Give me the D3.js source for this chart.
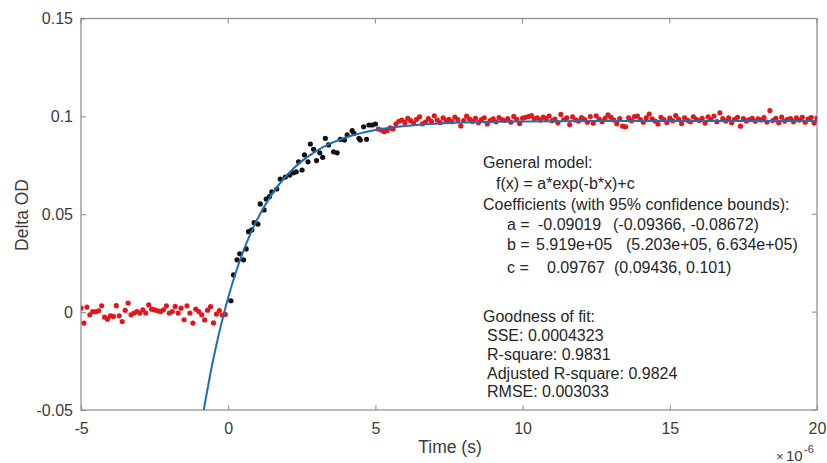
<!DOCTYPE html>
<html lang="en">
<head>
<meta charset="UTF-8">
<title>Delta OD exponential fit</title>
<script src="https://cdn.jsdelivr.net/npm/d3@7"></script>
<style>
  body { margin: 0; background: #fff; }
  svg { display: block; font-family: "Liberation Sans", Arial, Helvetica, sans-serif; }
</style>
</head>
<body>
<svg width="827" height="463" id="mainsvg"></svg>
<script>
// time values are in units of 1e-6 s (axis shows x10^-6)
const xTicks = [-5, 0, 5, 10, 15, 20];
const yTicks = [-0.05, 0, 0.05, 0.1, 0.15];

// baseline before the pulse (red)
const preTime = [-5.0, -4.9, -4.8, -4.7, -4.6, -4.5, -4.4, -4.3, -4.2, -4.1,
                 -4.0, -3.9, -3.8, -3.7, -3.6, -3.5, -3.4, -3.3, -3.2, -3.1,
                 -3.0, -2.9, -2.8, -2.7, -2.6, -2.5, -2.4, -2.3, -2.2, -2.1,
                 -2.0, -1.9, -1.8, -1.7, -1.6, -1.5, -1.4, -1.3, -1.2, -1.1,
                 -1.0, -0.9, -0.8, -0.7, -0.6, -0.5, -0.4, -0.3, -0.2, -0.1];
const preOD = [0.0020, -0.0056, 0.0026, -0.0014, 0.0003, 0.0002, 0.0007, 0.0032, -0.0026, -0.0036,
               -0.0019, -0.0022, 0.0033, -0.0019, -0.0048, 0.0009, 0.0046, -0.0014, -0.0005, 0.0003,
               -0.0005, 0.0012, -0.0005, 0.0037, 0.0015, 0.0012, 0.0007, 0.0003, 0.0012, 0.0032,
               -0.0005, 0.0003, 0.0029, -0.0005, 0.0020, -0.0039, 0.0032, -0.0005, -0.0056, 0.0015,
               0.0003, -0.0014, -0.0040, 0.0010, 0.0028, -0.0055, -0.0010, 0.0008, -0.0015, -0.0012];

// rise used in the fit (black)
const riseTime = [0.09, 0.18, 0.30, 0.39, 0.52, 0.61, 0.69, 0.80, 0.88, 1.01,
                  1.09, 1.22, 1.29, 1.40, 1.48, 1.65, 1.77, 1.94, 2.09, 2.22,
                  2.31, 2.39, 2.51, 2.59, 2.71, 2.79, 2.90, 3.00, 3.11, 3.21,
                  3.30, 3.41, 3.58, 3.70, 3.81, 3.95, 4.04, 4.21, 4.27, 4.44,
                  4.49, 4.60, 4.70, 4.78, 4.89, 5.00];
const riseOD = [0.0058, 0.0190, 0.0267, 0.0298, 0.0267, 0.0323, 0.0411, 0.0420, 0.0457, 0.0450,
                0.0553, 0.0522, 0.0578, 0.0590, 0.0615, 0.0629, 0.0680, 0.0690, 0.0700, 0.0712,
                0.0717, 0.0768, 0.0726, 0.0803, 0.0768, 0.0859, 0.0832, 0.0774, 0.0814, 0.0791,
                0.0888, 0.0854, 0.0819, 0.0814, 0.0883, 0.0879, 0.0905, 0.0927, 0.0913, 0.0888,
                0.0879, 0.0947, 0.0883, 0.0956, 0.0956, 0.0961];

// plateau after the rise (red)
const postTime = [5.1, 5.2, 5.3, 5.4, 5.5, 5.6, 5.7, 5.8, 5.9, 6.0,
                  6.1, 6.2, 6.3, 6.4, 6.5, 6.6, 6.7, 6.8, 6.9, 7.0,
                  7.1, 7.2, 7.3, 7.4, 7.5, 7.6, 7.7, 7.8, 7.9, 8.0,
                  8.1, 8.2, 8.3, 8.4, 8.5, 8.6, 8.7, 8.8, 8.9, 9.0,
                  9.1, 9.2, 9.3, 9.4, 9.5, 9.6, 9.7, 9.8, 9.9, 10.0,
                  10.1, 10.2, 10.3, 10.4, 10.5, 10.6, 10.7, 10.8, 10.9, 11.0,
                  11.1, 11.2, 11.3, 11.4, 11.5, 11.6, 11.7, 11.8, 11.9, 12.0,
                  12.1, 12.2, 12.3, 12.4, 12.5, 12.6, 12.7, 12.8, 12.9, 13.0,
                  13.1, 13.2, 13.3, 13.4, 13.5, 13.6, 13.7, 13.8, 13.9, 14.0,
                  14.1, 14.2, 14.3, 14.4, 14.5, 14.6, 14.7, 14.8, 14.9, 15.0,
                  15.1, 15.2, 15.3, 15.4, 15.5, 15.6, 15.7, 15.8, 15.9, 16.0,
                  16.1, 16.2, 16.3, 16.4, 16.5, 16.6, 16.7, 16.8, 16.9, 17.0,
                  17.1, 17.2, 17.3, 17.4, 17.5, 17.6, 17.7, 17.8, 17.9, 18.0,
                  18.1, 18.2, 18.3, 18.4, 18.5, 18.6, 18.7, 18.8, 18.9, 19.0,
                  19.1, 19.2, 19.3, 19.4, 19.5, 19.6, 19.7, 19.8, 19.9, 20.0];
const postOD = [0.0935, 0.0930, 0.0922, 0.0928, 0.0941, 0.0936, 0.0962, 0.0975, 0.0981, 0.0969,
                0.0990, 0.0978, 0.0966, 0.0985, 0.0998, 0.0962, 0.0971, 0.0989, 0.0975, 0.1003,
                0.0981, 0.0968, 0.0992, 0.0977, 0.0985, 0.0973, 0.0996, 0.0983, 0.0951, 0.0979,
                0.1001, 0.0986, 0.0974, 0.0990, 0.0968, 0.0984, 0.0993, 0.0961, 0.0978, 0.0987,
                0.0972, 0.0994, 0.0983, 0.0979, 0.0988, 0.0970, 0.1000, 0.0985, 0.0964, 0.0991,
                0.0995, 0.0999, 0.1004, 0.0987, 0.0993, 0.0981, 0.0996, 0.0989, 0.1002, 0.0978,
                0.0986, 0.0967, 0.1010, 0.0984, 0.0992, 0.0958, 0.0997, 0.0982, 0.0976, 0.0994,
                0.0985, 0.0970, 0.0999, 0.0965, 0.1003, 0.0986, 0.0973, 0.0990, 0.1008, 0.0995,
                0.0981, 0.0962, 0.0989, 0.0950, 0.0947, 0.0993, 0.0978, 0.0999, 0.1002, 0.0984,
                0.0970, 0.0992, 0.1012, 0.0987, 0.0976, 0.0961, 0.0995, 0.0983, 0.0969, 0.0991,
                0.0978, 0.1004, 0.0986, 0.0963, 0.0993, 0.0980, 0.0972, 0.0998, 0.0985, 0.0979,
                0.0990, 0.0966, 0.0997, 0.0984, 0.1002, 0.0973, 0.1018, 0.0988, 0.0976, 0.0992,
                0.0968, 0.0985, 0.0995, 0.0950, 0.0989, 0.0977, 0.0983, 0.0990, 0.0975, 0.0987,
                0.0982, 0.0994, 0.0971, 0.1030, 0.0979, 0.0990, 0.0968, 0.0996, 0.0976, 0.0985,
                0.0989, 0.0973, 0.0992, 0.0981, 0.0995, 0.0970, 0.0986, 0.0994, 0.0966, 0.0990];

// fitted curve f(x) = a*exp(-b*x)+c, sampled
const fitTime = [-0.85, -0.5, -0.25, 0, 0.25, 0.5, 0.75, 1, 1.5, 2, 2.5, 3, 3.5, 4, 5, 6, 7, 8, 10, 12, 15, 20];
const fitOD = [-0.05149, -0.02358, -0.00691, 0.00748, 0.01989, 0.03059, 0.03981, 0.04777, 0.06056, 0.07006,
               0.07713, 0.08240, 0.08631, 0.08922, 0.09299, 0.09508, 0.09624, 0.09688, 0.09743, 0.09760, 0.09766, 0.09767];

const fitText = [
  {x: 483, y: 168, s: 'General model:'},
  {x: 496, y: 189, s: 'f(x) = a*exp(-b*x)+c'},
  {x: 483, y: 210, s: 'Coefficients (with 95% confidence bounds):'},
  {x: 507, y: 230, s: 'a ='}, {x: 538, y: 230, s: '-0.09019'}, {x: 613, y: 230, s: '(-0.09366, -0.08672)'},
  {x: 507, y: 250, s: 'b ='}, {x: 536, y: 250, s: '5.919e+05'}, {x: 626, y: 250, s: '(5.203e+05, 6.634e+05)'},
  {x: 507, y: 273, s: 'c ='}, {x: 547, y: 273, s: '0.09767'}, {x: 614, y: 273, s: '(0.09436, 0.101)'},
  {x: 483, y: 322, s: 'Goodness of fit:'},
  {x: 487, y: 341, s: 'SSE: 0.0004323'},
  {x: 487, y: 360, s: 'R-square: 0.9831'},
  {x: 487, y: 379, s: 'Adjusted R-square: 0.9824'},
  {x: 487, y: 397, s: 'RMSE: 0.003033'}
];

const svg = d3.select('#mainsvg');
const width = +svg.attr('width');
const height = +svg.attr('height');
const margin = {top: 18.5, right: 10, bottom: 53, left: 81};
const innerWidth = width - margin.left - margin.right;
const innerHeight = height - margin.top - margin.bottom;
const axisColor = '#8a8a8a';
const textColor = '#3c3c3c';
const fontSize = 16;

const xScale = d3.scaleLinear().domain([-5, 20]).range([0, innerWidth]);
const yScale = d3.scaleLinear().domain([-0.05, 0.15]).range([innerHeight, 0]);

svg.append('defs').append('clipPath').attr('id', 'plotclip')
  .append('rect').attr('width', innerWidth).attr('height', innerHeight);

const g = svg.append('g').attr('transform', `translate(${margin.left},${margin.top})`);

// axes, ticks point inward
const fmt = d => String(+d.toFixed(2));
const xAxis = g.append('g').attr('transform', `translate(0,${innerHeight})`)
  .call(d3.axisBottom(xScale).tickValues(xTicks).tickSize(-5).tickPadding(13).tickFormat(d => d));
const yAxis = g.append('g')
  .call(d3.axisLeft(yScale).tickValues(yTicks).tickSize(-5).tickPadding(8).tickFormat(fmt));

// mirrored tick marks on top and right
g.append('g').selectAll('line').data(xTicks).enter().append('line')
  .attr('x1', d => xScale(d)).attr('x2', d => xScale(d))
  .attr('y1', 0).attr('y2', 5).attr('stroke', axisColor);
g.append('g').selectAll('line').data(yTicks).enter().append('line')
  .attr('x1', innerWidth - 5).attr('x2', innerWidth)
  .attr('y1', d => yScale(d)).attr('y2', d => yScale(d)).attr('stroke', axisColor);

[xAxis, yAxis].forEach(a => {
  a.select('.domain').remove();
  a.selectAll('.tick line').attr('stroke', axisColor);
  a.selectAll('.tick text').attr('fill', textColor).attr('font-size', fontSize)
    .attr('font-family', '"Liberation Sans", Arial, sans-serif');
});

g.append('rect')
  .attr('width', innerWidth).attr('height', innerHeight)
  .attr('fill', 'none').attr('stroke', axisColor).attr('stroke-width', 1.2);

// data points
const plot = g.append('g').attr('clip-path', 'url(#plotclip)');
const drawDots = (ts, vs, color) => {
  plot.append('g').selectAll('circle').data(ts).enter().append('circle')
    .attr('cx', d => xScale(d))
    .attr('cy', (d, i) => yScale(vs[i]))
    .attr('r', 2.6)
    .attr('fill', color);
};
drawDots(preTime, preOD, '#e3161c');
drawDots(postTime, postOD, '#e3161c');
drawDots(riseTime, riseOD, '#111');

const line = d3.line()
  .x(d => xScale(d[0]))
  .y(d => yScale(d[1]))
  .curve(d3.curveMonotoneX);
plot.append('path')
  .datum(fitTime.map((t, i) => [t, fitOD[i]]))
  .attr('d', line)
  .attr('fill', 'none')
  .attr('stroke', '#1f6fae')
  .attr('stroke-width', 2);

// fit results text
svg.append('g').selectAll('text').data(fitText).enter().append('text')
  .attr('x', d => d.x).attr('y', d => d.y)
  .attr('font-size', fontSize).attr('fill', '#262626')
  .text(d => d.s);

// axis labels
svg.append('text').text('Time (s)')
  .attr('x', 450).attr('y', 453)
  .attr('text-anchor', 'middle').attr('font-size', 17.5).attr('fill', textColor);
svg.append('text').text('Delta OD')
  .attr('transform', 'translate(28,215) rotate(-90)')
  .attr('text-anchor', 'middle').attr('font-size', 17.5).attr('fill', textColor);

// exponent multiplier
svg.append('text').text('\u00d7').attr('x', 776).attr('y', 461)
  .attr('font-size', 13).attr('fill', textColor);
svg.append('text').text('10').attr('x', 786).attr('y', 461)
  .attr('font-size', 15).attr('fill', textColor);
svg.append('text').text('-6').attr('x', 804).attr('y', 453)
  .attr('font-size', 11).attr('fill', textColor);
</script>
</body>
</html>
